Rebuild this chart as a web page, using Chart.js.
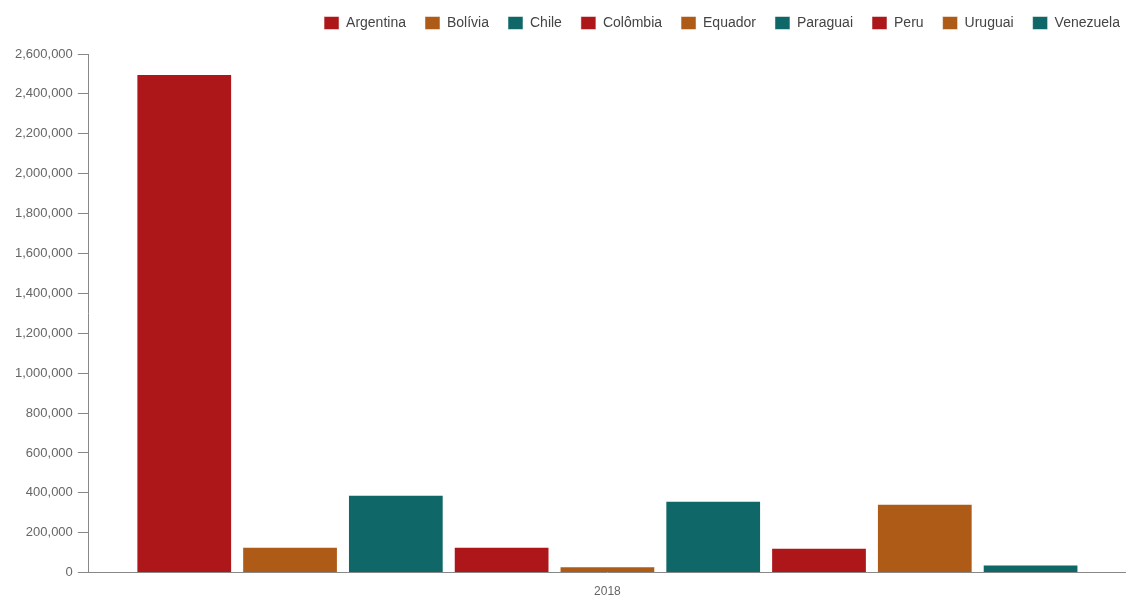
<!DOCTYPE html>
<html lang="pt">
<head>
  <meta charset="UTF-8">
  <title>2018</title>
  <style>
    html, body { margin: 0; padding: 0; background: #fff; overflow: hidden; }
    .chart-container { width: 1126px; height: 611px; }
  </style>
</head>
<body>
  <div class="chart-container">
    <canvas id="barChart"></canvas>
  </div>

  <script src="https://cdn.jsdelivr.net/npm/chart.js"></script>
  <script>
    const categories = ['2018'];
    const countries = ['Argentina', 'Bolívia', 'Chile', 'Colômbia', 'Equador', 'Paraguai', 'Peru', 'Uruguai', 'Venezuela'];
    const values = [2500000, 130000, 390000, 130000, 32000, 360000, 125000, 345000, 40000];
    const colors = ['#ad171a', '#ae5b17', '#0f6867'];

    Chart.defaults.font.family = "'Liberation Sans', Arial, sans-serif";
    Chart.defaults.color = '#666';

    const datasets = countries.map((name, i) => ({
      label: name,
      data: [values[i]],
      backgroundColor: colors[i % 3],
      borderColor: 'rgba(255,255,255,0.5)',
      borderWidth: 1
    }));

    // un peu plus d'espace sous la légende, et légende calée à droite
    const legendSpacing = {
      id: 'legendSpacing',
      beforeInit(chart) {
        const fit = chart.legend.fit;
        chart.legend.fit = function () {
          fit.call(this);
          this.height += 11;
        };
      },
      afterLayout(chart) {
        chart.legend.top -= 3;
        chart.legend.bottom -= 3;
        chart.legend.left += 13;
        chart.legend.right += 13;
      }
    };

    new Chart(document.getElementById('barChart').getContext('2d'), {
      type: 'bar',
      data: { labels: categories, datasets: datasets },
      plugins: [legendSpacing],
      options: {
        responsive: true,
        maintainAspectRatio: false,
        animation: false,
        layout: { padding: { left: 10, right: 0, top: 0, bottom: 0 } },
        datasets: { bar: { categoryPercentage: 0.918, barPercentage: 0.905 } },
        plugins: {
          legend: {
            align: 'end',
            labels: { boxWidth: 15, boxHeight: 13, color: '#444', font: { size: 14 }, padding: 19 }
          },
          tooltip: {
            callbacks: { label: ctx => `${ctx.dataset.label}: ${ctx.raw.toLocaleString('en-US')}` }
          }
        },
        scales: {
          x: {
            grid: { drawOnChartArea: false, drawTicks: false },
            border: { color: '#888', width: 1 },
            ticks: { padding: 12, font: { size: 12 } }
          },
          y: {
            min: 0,
            max: 2600000,
            grid: { drawOnChartArea: false, drawTicks: true, tickLength: 11, color: '#888' },
            border: { color: '#888', width: 1 },
            ticks: {
              stepSize: 200000,
              padding: 5,
              font: { size: 13 },
              callback: v => v.toLocaleString('en-US')
            }
          }
        }
      }
    });
  </script>
</body>
</html>
